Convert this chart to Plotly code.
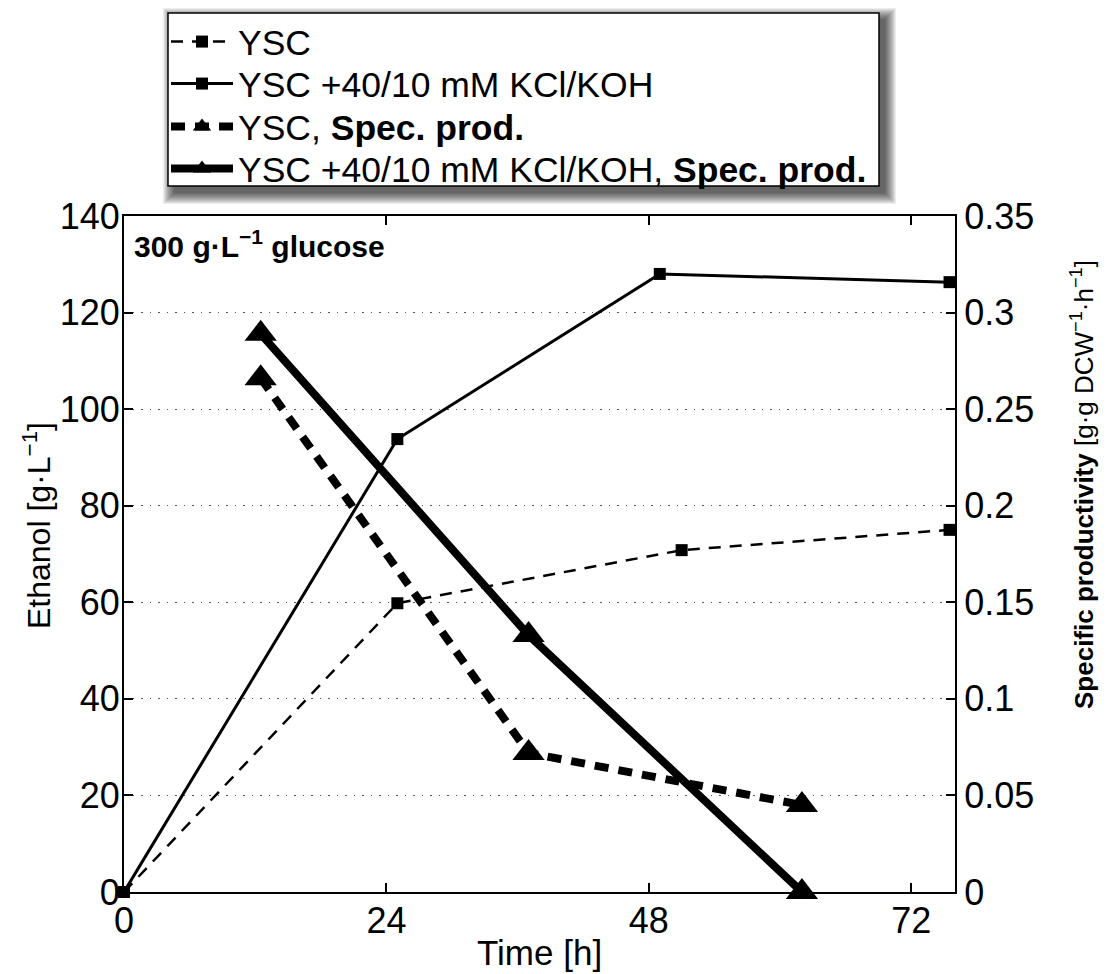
import plotly.graph_objects as go

# Fermentation time points [h]
time_ysc = [0, 25, 51, 75.5]
time_kcl = [0, 25, 49, 75.5]
time_prod = [12.5, 37, 62]

# Ethanol titres [g/L]
ethanol_ysc = [0, 59.8, 70.8, 75.0]
ethanol_kcl = [0, 93.8, 128.0, 126.3]

# Specific productivity [g/(g DCW h)]
prod_ysc = [0.266, 0.072, 0.045]
prod_kcl = [0.289, 0.133, 0.0]

x_ticks = [0, 24, 48, 72]
y_ticks = [0, 20, 40, 60, 80, 100, 120, 140]
y2_ticks = [0, 0.05, 0.1, 0.15, 0.2, 0.25, 0.3, 0.35]
y2_labels = ["0", "0.05", "0.1", "0.15", "0.2", "0.25", "0.3", "0.35"]

FONT = "Liberation Sans, Arial, Helvetica, sans-serif"
W, H = 1109, 974
L, R, T, B = 124, 154, 216, 82
TICK_SIZE = 36
LEGEND_SIZE = 35.5

pw, ph = W - L - R, H - T - B


def px_x(v):
    return (v - L) / pw


def px_y(v):
    return (H - B - v) / ph


fig = go.Figure()

fig.add_trace(go.Scatter(
    x=time_ysc, y=ethanol_ysc, name="YSC", mode="lines+markers",
    legend="legend",
    line=dict(color="black", width=2.5, dash="12px,9px"),
    marker=dict(symbol="square", size=12, color="black"),
    cliponaxis=False))
fig.add_trace(go.Scatter(
    x=time_kcl, y=ethanol_kcl, name="YSC +40/10 mM KCl/KOH", mode="lines+markers",
    legend="legend2",
    line=dict(color="black", width=3),
    marker=dict(symbol="square", size=12, color="black"),
    cliponaxis=False))
fig.add_trace(go.Scatter(
    x=time_prod, y=prod_ysc, name="YSC, <b>Spec. prod.</b>", mode="lines+markers",
    yaxis="y2", legend="legend3",
    line=dict(color="black", width=8, dash="14px,10px"),
    marker=dict(symbol="triangle-up", size=28, color="black"),
    cliponaxis=False))
fig.add_trace(go.Scatter(
    x=time_prod, y=prod_kcl, name="YSC +40/10 mM KCl/KOH, <b>Spec. prod.</b>",
    mode="lines+markers", yaxis="y2", legend="legend4",
    line=dict(color="black", width=8),
    marker=dict(symbol="triangle-up", size=28, color="black"),
    cliponaxis=False))

# legend frame with a soft drop shadow
bx0, by0, bx1, by1 = 168, 13, 879, 186
shapes = []
for g in range(11, -1, -1):
    shapes.append(dict(
        type="rect", xref="paper", yref="paper", layer="above",
        x0=px_x(bx0 + 6 - g), x1=px_x(bx1 + 6 + g),
        y0=px_y(by1 + 7 + g), y1=px_y(by0 + 6 - g),
        line=dict(width=0), fillcolor="rgba(0,0,0,0.07)"))
shapes.append(dict(
    type="rect", xref="paper", yref="paper", layer="above",
    x0=px_x(bx0), x1=px_x(bx1), y0=px_y(by1), y1=px_y(by0),
    line=dict(width=1.5, color="black"), fillcolor="white"))

# one legend per row so the rows sit at fixed heights inside the frame
row_y = [42, 84, 127, 169]
legends = {}
for i, ry in enumerate(row_y):
    key = "legend" if i == 0 else f"legend{i + 1}"
    legends[key] = dict(
        x=px_x(bx0 - 2), y=px_y(ry), xanchor="left", yanchor="middle",
        bgcolor="rgba(0,0,0,0)", borderwidth=0,
        font=dict(family=FONT, size=LEGEND_SIZE, color="black"),
        itemwidth=62, tracegroupgap=0)

grid = dict(showgrid=True, gridcolor="#555", gridwidth=1.2, griddash="1.5px,7px")
axis_common = dict(ticks="inside", ticklen=9, tickwidth=1.5, tickcolor="black",
                   showline=True, linecolor="black", linewidth=2, zeroline=False,
                   tickfont=dict(size=TICK_SIZE))

fig.update_layout(
    width=W, height=H,
    margin=dict(l=L, r=R, t=T, b=B),
    paper_bgcolor="white", plot_bgcolor="white",
    font=dict(family=FONT, size=30, color="black"),
    showlegend=True,
    shapes=shapes,
    **legends,
    xaxis=dict(range=[0, 76], tickvals=x_ticks, mirror="ticks", showgrid=False,
               ticklabelstandoff=-4, **axis_common),
    yaxis=dict(range=[0, 140], tickvals=y_ticks, ticklabelstandoff=-5,
               **grid, **axis_common),
    yaxis2=dict(range=[0, 0.35], tickvals=y2_ticks, ticktext=y2_labels,
                overlaying="y", side="right", showgrid=False, **axis_common),
    annotations=[
        dict(text="<b>300 g·L<sup>−1</sup> glucose</b>", xref="paper", yref="paper",
             x=0.01, y=0.995, yshift=-4, xanchor="left", yanchor="top",
             showarrow=False, font=dict(family=FONT, size=30, color="black")),
        dict(text="Time [h]", xref="paper", yref="paper",
             x=0.5, y=px_y(952), xanchor="center", yanchor="middle",
             showarrow=False, font=dict(family=FONT, size=35, color="black")),
        dict(text="Ethanol [g·L<sup>−1</sup>]", xref="paper", yref="paper",
             x=px_x(37), y=px_y(526), xanchor="center", yanchor="middle",
             textangle=-90, showarrow=False,
             font=dict(family=FONT, size=32, color="black")),
        dict(text="<b>Specific productivity</b> [g·g DCW<sup>−1</sup>·h<sup>−1</sup>]",
             xref="paper", yref="paper",
             x=px_x(1082), y=px_y(485), xanchor="center", yanchor="middle",
             textangle=-90, showarrow=False,
             font=dict(family=FONT, size=26, color="black")),
    ],
)

fig.write_html("out.html")
